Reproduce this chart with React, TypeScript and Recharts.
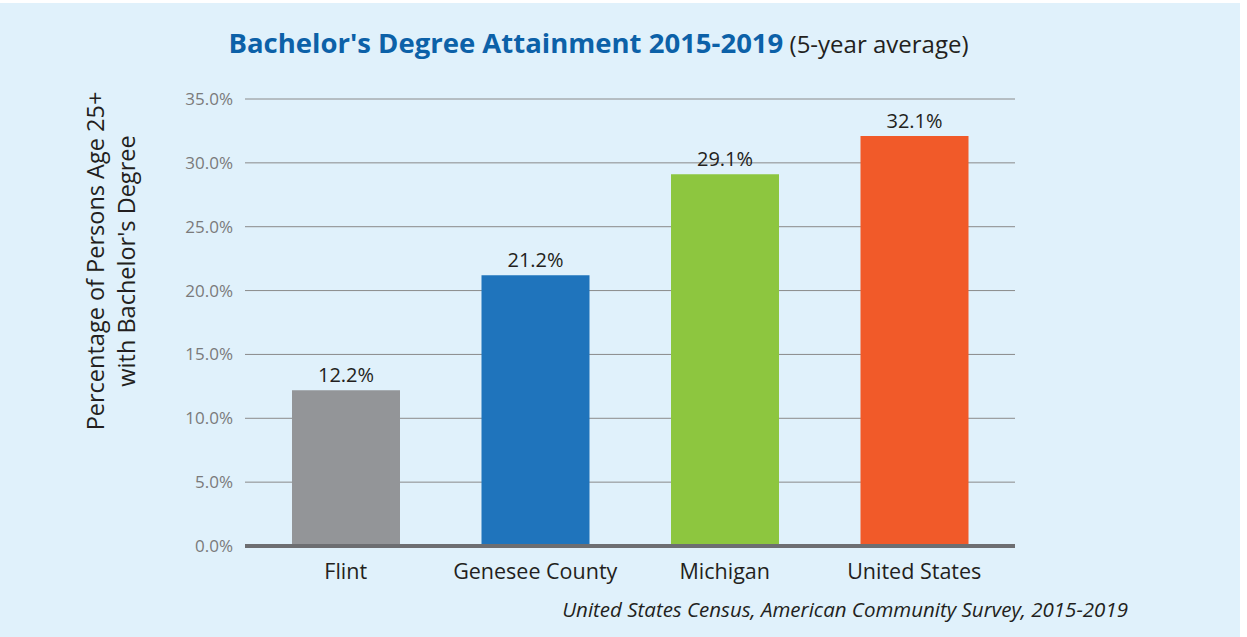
import React from 'react';
import { BarChart, Bar, XAxis, YAxis, CartesianGrid, Cell, LabelList, ReferenceLine } from 'recharts';

const places = ['Flint', 'Genesee County', 'Michigan', 'United States'];
const attainment = [12.2, 21.2, 29.1, 32.1];
const barColors = ['#939598', '#1f74bc', '#8dc63f', '#f15a29'];
const yTicks = [0, 5, 10, 15, 20, 25, 30, 35];

const data = places.map((place, i) => ({ place, value: attainment[i] }));

const FONT = '"Open Sans", sans-serif';

const YLabel = () => (
  <text
    transform="translate(112, 261) rotate(-90)"
    textAnchor="middle"
    fontFamily={FONT}
    fontSize={23.5}
    fill="#231f20"
  >
    <tspan x={0} dy={-8}>Percentage of Persons Age 25+</tspan>
    <tspan x={0} dy={31}>with Bachelor's Degree</tspan>
  </text>
);

export default function App() {
  return (
    <div style={{ position: 'absolute', left: 0, top: 0, width: 1247, height: 637, background: '#fff' }}>
      <style>{'body{margin:0}'}</style>
      <div style={{ position: 'absolute', left: 0, top: 3, width: 1240, height: 634, background: '#e0f1fb' }} />
      <div
        style={{
          position: 'absolute',
          left: 0,
          top: 24,
          width: 1197,
          textAlign: 'center',
          fontFamily: FONT,
          whiteSpace: 'nowrap',
        }}
      >
        <span style={{ fontSize: 27.5, fontWeight: 700, color: '#0c61a8', letterSpacing: 0 }}>
          Bachelor's Degree Attainment 2015-2019
        </span>
        <span style={{ fontSize: 24, color: '#231f20' }}> (5-year average)</span>
      </div>
      <div
        style={{
          position: 'absolute',
          right: 1247 - 1128,
          top: 595,
          fontFamily: FONT,
          fontStyle: 'italic',
          fontSize: 20.5,
          color: '#231f20',
          whiteSpace: 'nowrap',
        }}
      >
        United States Census, American Community Survey, 2015-2019
      </div>
      <div style={{ position: 'absolute', left: 0, top: 0 }}>
        <BarChart width={1247} height={637} data={data} margin={{ top: 99, right: 232, bottom: 61, left: 0 }}>
          <CartesianGrid vertical={false} stroke="#8a8a8a" strokeWidth={1} />
          <XAxis
            dataKey="place"
            axisLine={false}
            tickLine={false}
            tickMargin={12}
            padding={{ left: 6, right: 6 }}
            tick={{ fontFamily: FONT, fontSize: 21.5, fill: '#231f20' }}
          />
          <YAxis
            width={245}
            domain={[0, 35]}
            ticks={yTicks}
            axisLine={false}
            tickLine={false}
            tickMargin={6}
            tickFormatter={(v: number) => `${v.toFixed(1)}%`}
            tick={{ fontFamily: FONT, fontSize: 17, fill: '#7a7a7a' }}
            label={<YLabel />}
          />
          <Bar dataKey="value" barSize={108} isAnimationActive={false}>
            {data.map((d, i) => (
              <Cell key={d.place} fill={barColors[i]} />
            ))}
            <LabelList
              dataKey="value"
              position="top"
              offset={8}
              formatter={(v: number) => `${v.toFixed(1)}%`}
              style={{ fontFamily: FONT, fontSize: 20, fill: '#231f20' }}
            />
          </Bar>
          <ReferenceLine y={0} stroke="#6d6e71" strokeWidth={4} />
        </BarChart>
      </div>
    </div>
  );
}
